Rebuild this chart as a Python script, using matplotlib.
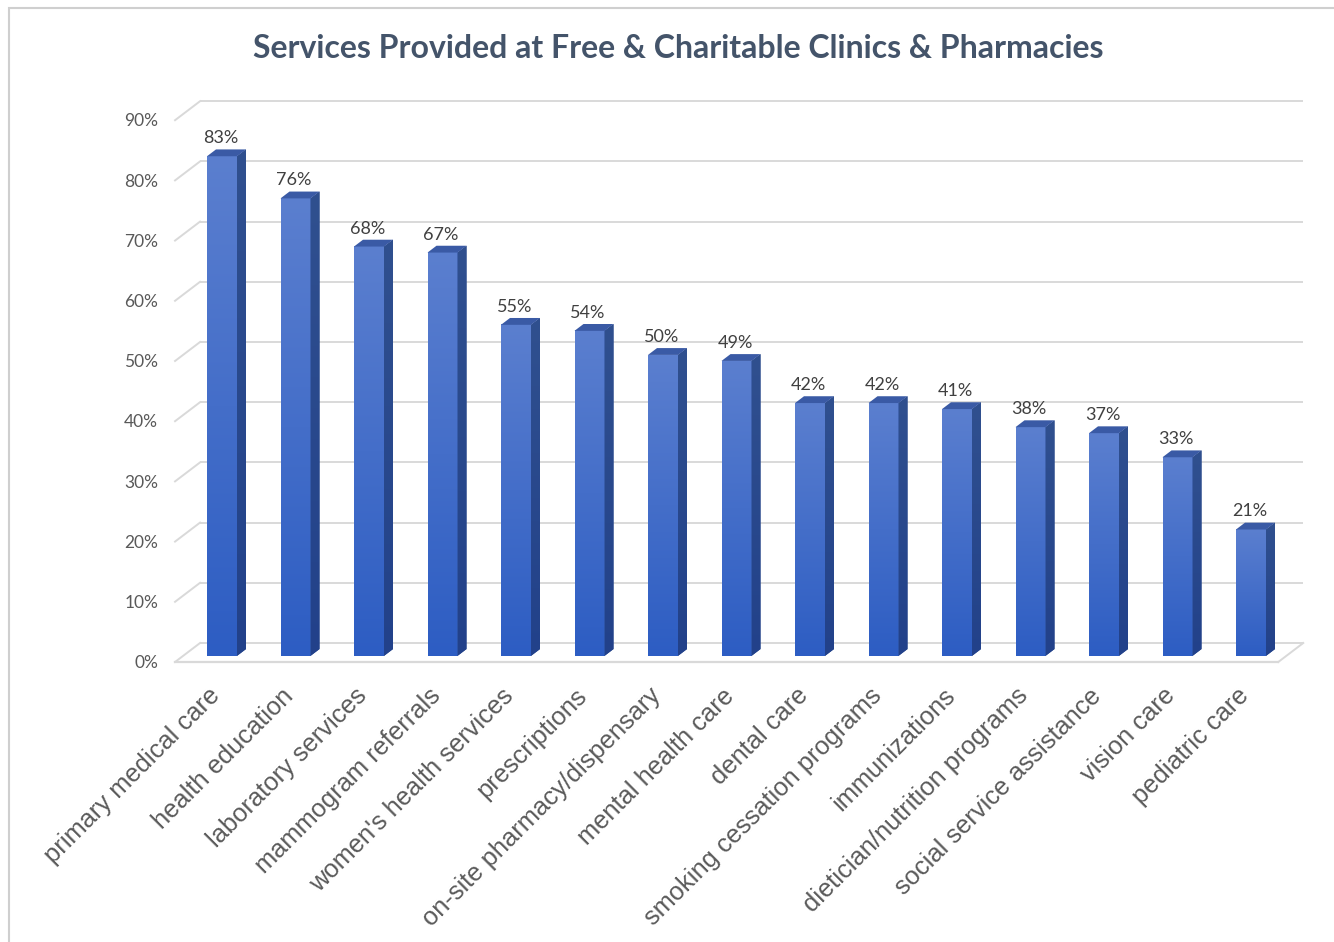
import numpy as np
import matplotlib
matplotlib.use("Agg")
import matplotlib.pyplot as plt
from matplotlib.patches import Polygon, Rectangle
from matplotlib.colors import to_rgb

# ---------------- data ----------------
categories = ["primary medical care", "health education", "laboratory services",
              "mammogram referrals", "women's health services", "prescriptions",
              "on-site pharmacy/dispensary", "mental health care", "dental care",
              "smoking cessation programs", "immunizations", "dietician/nutrition programs",
              "social service assistance", "vision care", "pediatric care"]
values = [83, 76, 68, 67, 55, 54, 50, 49, 42, 42, 41, 38, 37, 33, 21]
yticks = [0, 10, 20, 30, 40, 50, 60, 70, 80, 90]
title = "Services Provided at Free & Charitable Clinics & Pharmacies"

# ---------------- layout (pixel geometry of the reference) ----------------
W, H = 1334, 942
px_per_cat = 73.5        # horizontal spacing of categories
px_per_pct = 6.02        # vertical pixels per percent
x0_px = 214.0            # front-plane position of first category
y0_px = 662.0            # front-plane 0% (from top)

fig = plt.figure(figsize=(W / 100, H / 100), dpi=100)
ax = fig.add_axes([0, 0, 1, 1])
ax.axis("off")

DX = 25 / px_per_cat      # floor depth in data units
DY = 19 / px_per_pct
floor_l, floor_r = -0.53, 14.48
grid_c = "#d9d9d9"

# back wall gridlines + left diagonals
for v in yticks:
    ax.plot([floor_l + DX, floor_r + DX], [v + DY, v + DY], color=grid_c, lw=1.4, zorder=1,
            solid_capstyle="butt")
    ax.plot([floor_l, floor_l + DX], [v, v + DY], color=grid_c, lw=1.4, zorder=1)
# floor front and right edges
ax.plot([floor_l, floor_r], [0, 0], color=grid_c, lw=1.6, zorder=1)
ax.plot([floor_r, floor_r + DX], [0, DY], color=grid_c, lw=1.4, zorder=1)

# bars
bw = 30 / px_per_cat
d_front = 0.32
d_back = 0.68
top_c = np.array(to_rgb("#5b7fcf"))
bot_c = np.array(to_rgb("#2d5dc3"))
grad = np.linspace(0, 1, 200)[:, None, None]
grad_img = top_c * (1 - grad) + bot_c * grad
side_top = np.array(to_rgb("#30508f"))
side_bot = np.array(to_rgb("#22418a"))
side_img = side_top * (1 - grad) + side_bot * grad

for i, (cat, v) in enumerate(zip(categories, values)):
    xc = i
    fx0 = xc - bw / 2 + d_front * DX
    fx1 = xc + bw / 2 + d_front * DX
    fy0 = d_front * DY
    fy1 = v + d_front * DY
    bdx = (d_back - d_front) * DX
    bdy = (d_back - d_front) * DY
    # front face (gradient)
    ax.imshow(grad_img, extent=[fx0, fx1, fy0, fy1], aspect="auto", zorder=3,
              interpolation="bilinear")
    # side face
    side = Polygon([[fx1, fy0], [fx1 + bdx, fy0 + bdy], [fx1 + bdx, fy1 + bdy], [fx1, fy1]],
                   closed=True, facecolor="#2a4a8d", edgecolor="none", zorder=3)
    ax.add_patch(side)
    img = ax.imshow(side_img, extent=[fx1, fx1 + bdx, fy0, fy1 + bdy], aspect="auto",
                    zorder=3, interpolation="bilinear")
    img.set_clip_path(side)
    # top face
    top = Polygon([[fx0, fy1], [fx1, fy1], [fx1 + bdx, fy1 + bdy], [fx0 + bdx, fy1 + bdy]],
                  closed=True, facecolor="#3a5aa5", edgecolor="none", zorder=4)
    ax.add_patch(top)
    # data label
    ax.text((fx0 + fx1) / 2 - 1.5 / px_per_cat, v + 4.0, f"{v}%", ha="center", va="center",
            fontsize=13, color="#404040", family="Lato", zorder=5)
    # category label
    ax.text(i + 2 / px_per_cat, -5.0, cat, rotation=45, rotation_mode="anchor",
            ha="right", va="center", fontsize=18.4, color="#5a5a5a",
            family="Liberation Sans", zorder=5)

ax.set_xlim((0 - x0_px) / px_per_cat, (W - x0_px) / px_per_cat)
ax.set_ylim((y0_px - H) / px_per_pct, y0_px / px_per_pct)

# y tick labels
for v in yticks:
    ax.text((158 - x0_px) / px_per_cat, v - 0.2, f"{v}%", ha="right", va="center",
            fontsize=12.5, color="#595959", family="Lato")

# title
fig.text(678 / W, 1 - 48 / H, title, ha="center", va="center", fontsize=23,
         fontweight="bold", color="#44546a", family="Lato")

# chart border
fig.patches.append(Rectangle((9 / W, -0.1), 1.2, 1 - 8 / H + 0.1, transform=fig.transFigure,
                             fill=False, edgecolor="#cfcfcf", lw=1.5))

fig.savefig("out.png", dpi=100)
